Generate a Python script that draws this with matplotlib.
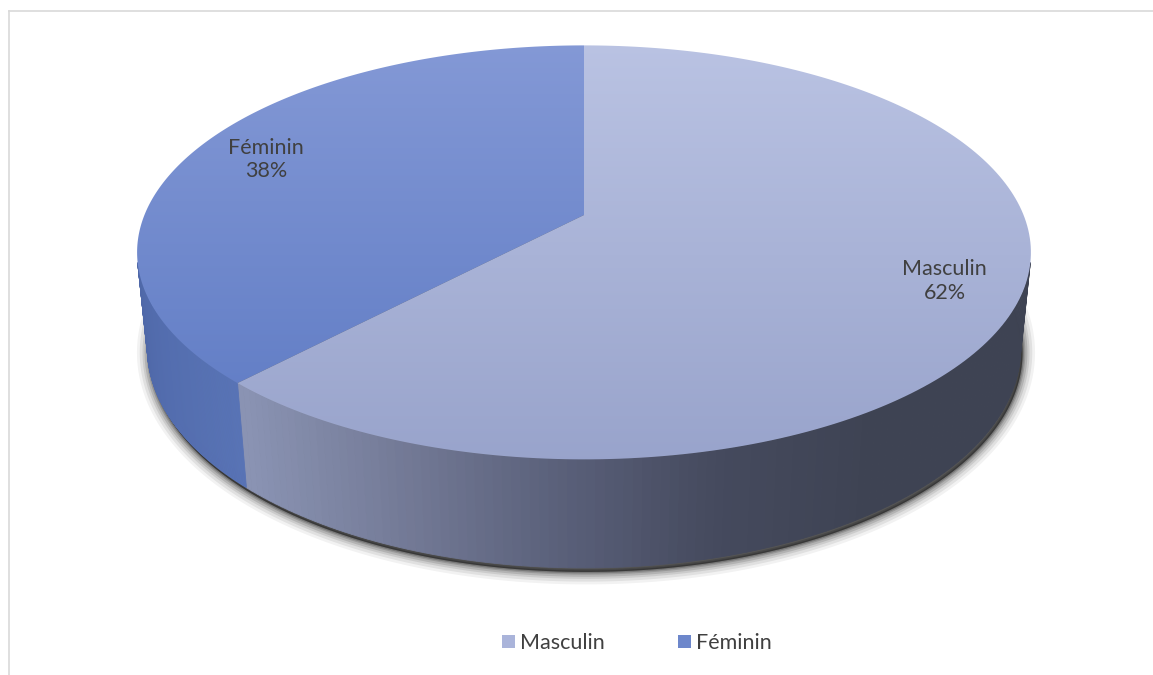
import numpy as np
import matplotlib
matplotlib.use("Agg")
import matplotlib.pyplot as plt
from matplotlib.patches import Polygon, Patch
from matplotlib.colors import LinearSegmentedColormap, to_rgb
from matplotlib.lines import Line2D

labels = ["Masculin", "Féminin"]
shares = [62, 38]

top_colors = [("#bac3e3", "#98a3cb"), ("#8499d6", "#5c79c3")]
side_colors = [["#8a93b3", "#737a96", "#5a607a", "#454a5e", "#3e4353", "#3e4353"],
               ["#4f68a8", "#5873b6"]]
legend_colors = ["#aab4da", "#6d87cb"]

W, H = 1153, 675
fig = plt.figure(figsize=(W / 100, H / 100), dpi=100)
ax = fig.add_axes([0, 0, 1, 1])
ax.set_xlim(0, W)
ax.set_ylim(H, 0)
ax.axis("off")

# simple perspective camera for the 3D pie
elev = np.radians(27.1)
dist = 4.93
focal = 2167.0
depth = 0.248
cx, cy = 584.0, 215.0


def project(phi, r=1.0, y=0.0):
    X = r * np.sin(phi)
    Z = -r * np.cos(phi)
    d = dist - (y * np.sin(elev) + Z * np.cos(elev))
    sx = focal * X / d
    sy = focal * (y * np.cos(elev) - Z * np.sin(elev)) / d
    return cx + sx, cy - sy


fracs = np.array(shares) / sum(shares)
bounds = np.concatenate([[0], np.cumsum(fracs)]) * 2 * np.pi

# soft shadow under the pie
phi_all = np.linspace(0, 2 * np.pi, 400)
bx, by = project(phi_all, 1.0, -depth)
for lw, a in [(18, 0.05), (14, 0.07), (10, 0.09), (7, 0.12), (4, 0.15), (2, 0.2)]:
    ax.add_patch(Polygon(np.column_stack([bx + 2, by + 4]), closed=True,
                         fc=(0, 0, 0, a), ec=(0, 0, 0, a), lw=lw, zorder=1))

# visible side walls
vis_lo = np.arccos(-1 / (dist * np.cos(elev)))
vis_hi = 2 * np.pi - vis_lo
for i in range(len(shares)):
    a0 = max(bounds[i], vis_lo)
    a1 = min(bounds[i + 1], vis_hi)
    if a1 <= a0:
        continue
    cmap = LinearSegmentedColormap.from_list("s%d" % i, side_colors[i][::-1])
    ph = np.linspace(a0, a1, 120)
    for k in range(len(ph) - 1):
        p0, p1 = ph[k], ph[k + 1]
        x0, y0 = project(p0)
        x1, y1 = project(p1)
        x2, y2 = project(p1, 1.0, -depth)
        x3, y3 = project(p0, 1.0, -depth)
        # colour by screen x so the gradient runs left to right
        if i == 0:
            t = 1 - (0.5 * (x0 + x1) - 245) / (1030 - 245)
        else:
            t = (k + 0.5) / (len(ph) - 1)
        c = cmap(np.clip(t, 0, 1))
        ax.add_patch(Polygon([[x0, y0], [x1, y1], [x2, y2], [x3, y3]], closed=True,
                             fc=c, ec=c, lw=0.6, zorder=2))

# top faces with vertical gradient
for i in range(len(shares)):
    ph = np.linspace(bounds[i], bounds[i + 1], 200)
    rx, ry = project(ph)
    pts = np.vstack([[cx, cy], np.column_stack([rx, ry])])
    poly = Polygon(pts, closed=True, fc="none", ec="none", zorder=3)
    ax.add_patch(poly)
    c0 = np.array(to_rgb(top_colors[i][0]))
    c1 = np.array(to_rgb(top_colors[i][1]))
    ymin, ymax = 40, 470
    t = np.linspace(0, 1, 256)[:, None]
    img = (c0[None, :] * (1 - t) + c1[None, :] * t)[:, None, :]
    im = ax.imshow(img, extent=[100, 1060, ymax, ymin], aspect="auto", zorder=3,
                   interpolation="bilinear")
    im.set_clip_path(poly)

ax.set_xlim(0, W)
ax.set_ylim(H, 0)

# data labels
for i in range(len(shares)):
    mid = (bounds[i] + bounds[i + 1]) / 2
    lx, ly = project(mid, 0.82)
    ax.text(lx + (6 if i == 0 else 0), ly + 2, "%s\n%d%%" % (labels[i], round(fracs[i] * 100)),
            ha="center", va="center", fontsize=15.5, family="Lato", color="#404040",
            linespacing=1.2, zorder=5)

# chart frame
fig.add_artist(Line2D([8.5 / W, 8.5 / W], [0, 1 - 10.5 / H], color="#d9d9d9", lw=1.2))
fig.add_artist(Line2D([8.5 / W, 1], [1 - 10.5 / H, 1 - 10.5 / H], color="#d9d9d9", lw=1.2))

handles = [Patch(fc=legend_colors[i], ec="none") for i in range(len(labels))]
fig.legend(handles, labels, loc="center", bbox_to_anchor=(637 / W, 1 - 643 / H), ncol=2,
           frameon=False, prop={"family": "Lato", "size": 15.5}, labelcolor="#404040",
           handlelength=0.6, handleheight=0.6, handletextpad=0.25, columnspacing=3.4)

fig.savefig("out.png", dpi=100)
